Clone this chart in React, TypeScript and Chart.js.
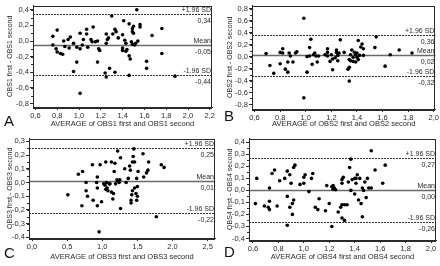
import React, { useEffect, useRef } from 'react';
import { Chart, registerables } from 'chart.js';
Chart.register(...registerables);

// ---------- DATA ----------
const obs1Avg = [0.76,0.76,0.80,0.79,0.80,0.83,0.85,0.86,0.87,0.90,0.91,0.92,0.95,0.95,0.98,0.98,1.01,1.01,1.04,1.03,1.07,1.07,1.08,1.01,1.11,1.12,1.13,1.15,1.17,1.18,1.19,1.17,1.24,1.25,1.25,1.26,1.27,1.28,1.30,1.31,1.33,1.33,1.34,1.36,1.25,1.40,1.40,1.41,1.42,1.43,1.43,1.44,1.46,1.46,1.47,1.46,1.48,1.49,1.49,1.49,1.50,1.50,1.51,1.52,1.54,1.53,1.56,1.56,1.62,1.62,1.67,1.76,1.76,1.88,1.40];
const obs1Diff = [0.06,-0.05,0.14,-0.10,-0.14,-0.16,-0.17,0.00,-0.07,0.02,-0.09,0.05,-0.03,-0.39,-0.08,-0.27,0.10,-0.10,0.02,-0.05,0.09,0.15,-0.08,-0.67,0.02,-0.01,0.18,-0.01,-0.27,-0.10,-0.12,0.00,-0.41,-0.46,-0.03,0.02,0.04,-0.35,0.32,0.09,0.15,-0.40,0.12,0.04,0.09,-0.12,-0.09,0.26,0.01,-0.13,-0.03,-0.11,0.22,-0.19,-0.23,-0.44,-0.01,-0.04,0.16,0.12,0.10,0.19,-0.05,-0.03,0.00,0.40,0.21,0.18,-0.26,-0.35,0.07,0.16,-0.16,-0.45,0.08];
const obs1Stats = [0.34, -0.05, -0.44];

const obs2Avg = [0.69,0.72,0.75,0.80,0.80,0.82,0.82,0.84,0.86,0.86,0.87,0.88,0.90,0.92,0.93,0.985,0.985,1.01,1.01,1.03,1.03,1.04,1.05,1.06,1.07,1.08,1.09,1.10,1.15,1.17,1.17,1.17,1.19,1.20,1.21,1.21,1.23,1.24,1.24,1.25,1.27,1.26,1.30,1.25,1.33,1.34,1.34,1.34,1.35,1.35,1.36,1.37,1.37,1.38,1.39,1.39,1.40,1.40,1.41,1.41,1.42,1.43,1.44,1.45,1.45,1.54,1.55,1.62,1.66,1.73,1.83];
const obs2Diff = [0.05,-0.15,-0.28,-0.12,0.07,0.13,0.06,-0.21,-0.09,-0.26,0.06,0.01,-0.09,0.06,0.08,0.64,-0.69,-0.26,0.00,0.01,0.15,0.29,-0.13,0.03,0.06,0.01,-0.09,0.01,0.03,0.13,0.07,0.01,-0.08,0.03,-0.04,-0.22,-0.02,0.11,0.07,-0.07,0.28,0.06,0.07,0.02,-0.21,-0.18,-0.41,-0.05,-0.07,0.03,0.11,-0.01,-0.08,0.07,0.03,-0.09,-0.01,0.06,0.27,-0.05,0.02,0.16,0.21,0.02,0.13,0.15,0.33,-0.16,0.03,0.11,0.06];
const obs2Stats = [0.36, 0.02, -0.32];

const obs3Avg = [0.51,0.66,0.72,0.71,0.77,0.77,0.79,0.86,0.87,0.92,0.93,0.93,0.93,0.97,0.99,0.955,1.02,1.04,1.05,1.05,1.06,1.07,1.08,1.10,1.11,1.13,1.13,1.15,1.16,1.17,1.18,1.19,1.21,1.22,1.22,1.24,1.25,1.26,1.26,1.32,1.34,1.37,1.39,1.40,1.42,1.41,1.41,1.43,1.44,1.45,1.46,1.46,1.48,1.49,1.49,1.50,1.50,1.51,1.58,1.59,1.63,1.65,1.66,1.77,1.84,1.88,1.43];
const obs3Diff = [-0.09,0.06,0.08,-0.17,0.00,-0.06,-0.10,0.13,-0.13,0.00,0.04,-0.04,-0.17,0.13,-0.14,-0.36,-0.01,-0.02,0.15,-0.05,0.00,-0.04,-0.06,-0.01,-0.01,0.15,-0.07,-0.12,-0.08,0.08,0.14,-0.01,0.02,0.23,0.01,0.00,0.02,0.18,-0.19,0.10,0.00,0.03,0.12,0.09,-0.09,-0.13,-0.15,0.15,0.19,0.245,0.15,-0.04,-0.08,0.03,-0.13,-0.03,-0.10,0.08,0.21,0.04,0.07,0.09,0.15,-0.25,0.13,0.11,-0.06];
const obs3Stats = [0.25, 0.01, -0.22];

const obs4Avg = [0.63,0.62,0.69,0.72,0.73,0.73,0.73,0.75,0.77,0.79,0.81,0.85,0.87,0.87,0.87,0.89,0.89,0.90,0.91,0.91,0.92,0.92,0.93,0.97,1.00,1.00,1.01,1.04,1.06,1.07,1.09,1.11,1.12,1.17,1.18,1.20,1.22,1.22,1.23,1.24,1.23,1.25,1.27,1.29,1.30,1.30,1.30,1.31,1.30,1.32,1.32,1.34,1.35,1.36,1.37,1.37,1.38,1.40,1.40,1.41,1.41,1.42,1.43,1.44,1.45,1.46,1.46,1.47,1.48,1.50,1.49,1.51,1.53,1.53,1.56,1.62,1.64];
const obs4Diff = [0.10,-0.11,-0.13,-0.14,-0.16,-0.09,0.02,0.14,0.17,-0.13,0.08,0.10,0.16,-0.05,-0.29,0.13,-0.14,0.06,-0.11,-0.20,0.19,-0.08,0.21,0.05,0.06,0.11,0.13,-0.01,0.10,0.14,-0.14,-0.16,-0.07,-0.17,0.04,-0.11,0.03,-0.30,0.04,0.02,0.01,0.005,-0.18,-0.14,-0.12,0.06,0.09,0.11,-0.23,-0.25,-0.12,-0.12,0.07,0.19,0.00,0.26,0.09,0.10,-0.03,0.10,0.06,0.13,-0.08,0.10,-0.11,-0.22,0.02,0.00,0.07,0.10,-0.06,0.02,0.33,0.02,0.17,0.06,0.21];
const obs4Stats = [0.27, 0.00, -0.26];

const statLabels = ['+1.96 SD', 'Mean', '-1.96 SD'];

const xTicksA = [0.6,0.8,1.0,1.2,1.4,1.6,1.8,2.0,2.2];
const yTicksA = [-0.8,-0.6,-0.4,-0.2,0.0,0.2,0.4];
const xTicksB = [0.6,0.8,1.0,1.2,1.4,1.6,1.8,2.0];
const yTicksB = [-0.8,-0.6,-0.4,-0.2,0.0,0.2,0.4,0.6,0.8];
const xTicksC = [0.0,0.5,1.0,1.5,2.0,2.5];
const yTicksC = [-0.4,-0.3,-0.2,-0.1,0.0,0.1,0.2,0.3];
const xTicksD = [0.6,0.8,1.0,1.2,1.4,1.6,1.8,2.0];
const yTicksD = [-0.4,-0.3,-0.2,-0.1,0.0,0.1,0.2,0.3,0.4];

// ---------- LAYOUT ----------
const W = 220, H = 133;
const FONT = '"Liberation Sans", Arial, sans-serif';
const INK = '#2a2a2a';

type Panel = {
  letter: string; avg: number[]; diff: number[]; stats: number[];
  xTicks: number[]; yTicks: number[]; xMinor: number; yMinor: number;
  xRange: [number, number]; yRange: [number, number];
  xTitle: string; yTitle: string;
  pos: [number, number]; area: { l: number; r: number; t: number; b: number };
  letterPos: [number, number];
};

const panels: Panel[] = [
  { letter: 'A', avg: obs1Avg, diff: obs1Diff, stats: obs1Stats, xTicks: xTicksA, yTicks: yTicksA, xMinor: 0.1, yMinor: 0.1,
    xRange: [0.578, 2.22], yRange: [-0.845, 0.455], xTitle: 'AVERAGE of OBS1 first and OBS1 second', yTitle: 'OBS1 first - OBS1 second',
    pos: [0, 0], area: { l: 33, r: 212, t: 3, b: 107 }, letterPos: [4, 126] },
  { letter: 'B', avg: obs2Avg, diff: obs2Diff, stats: obs2Stats, xTicks: xTicksB, yTicks: yTicksB, xMinor: 0.1, yMinor: 0.1,
    xRange: [0.58, 2.013], yRange: [-0.876, 0.854], xTitle: 'AVERAGE of OBS2 first and OBS2 second', yTitle: 'OBS2 first - OBS2 second',
    pos: [220, 0], area: { l: 32, r: 217, t: 3, b: 109 }, letterPos: [4, 121] },
  { letter: 'C', avg: obs3Avg, diff: obs3Diff, stats: obs3Stats, xTicks: xTicksC, yTicks: yTicksC, xMinor: 0.25, yMinor: 0.05,
    xRange: [-0.043, 2.605], yRange: [-0.405, 0.321], xTitle: 'AVERAGE of OBS3 first and OBS3 second', yTitle: 'OBS3 first - OBS3 second',
    pos: [0, 133], area: { l: 29, r: 215, t: 3, b: 105 }, letterPos: [4, 125] },
  { letter: 'D', avg: obs4Avg, diff: obs4Diff, stats: obs4Stats, xTicks: xTicksD, yTicks: yTicksD, xMinor: 0.1, yMinor: 0.05,
    xRange: [0.569, 2.039], yRange: [-0.413, 0.432], xTitle: 'AVERAGE of OBS4 first and OBS4 second', yTitle: 'OBS4 first - OBS4 second',
    pos: [220, 133], area: { l: 29, r: 218, t: 2, b: 107 }, letterPos: [4, 124] },
];

const fmt = (v: number) => v.toFixed(1).replace('.', ',');
const fmt2 = (v: number) => {
  const s = Math.abs(v).toFixed(2).replace('.', ',');
  return (v < 0 ? '-' : '') + s;
};

function makeOverlay(p: Panel) {
  return {
    id: 'overlay' + p.letter,
    beforeDatasetsDraw(chart: any) {
      const { ctx, chartArea: a, scales } = chart;
      const xs = scales.x, ys = scales.y;
      ctx.save();
      // minor ticks
      ctx.strokeStyle = INK;
      ctx.lineWidth = 1;
      const x0 = p.xTicks[0], x1 = p.xTicks[p.xTicks.length - 1];
      for (let v = x0; v <= x1 + 1e-9; v += p.xMinor) {
        const px = Math.round(xs.getPixelForValue(v)) + 0.5;
        ctx.beginPath(); ctx.moveTo(px, a.bottom); ctx.lineTo(px, a.bottom + 2); ctx.stroke();
      }
      const y0 = p.yTicks[0], y1 = p.yTicks[p.yTicks.length - 1];
      for (let v = y0; v <= y1 + 1e-9; v += p.yMinor) {
        const py = Math.round(ys.getPixelForValue(v)) + 0.5;
        ctx.beginPath(); ctx.moveTo(a.left - 2, py); ctx.lineTo(a.left, py); ctx.stroke();
      }
      // stat lines
      p.stats.forEach((v, i) => {
        const py = Math.round(ys.getPixelForValue(v)) + 0.5;
        ctx.beginPath();
        if (i === 1) { ctx.setLineDash([]); ctx.strokeStyle = '#6a6a6a'; ctx.lineWidth = 1.6; }
        else { ctx.setLineDash([2, 1]); ctx.strokeStyle = '#333'; ctx.lineWidth = 1; }
        ctx.moveTo(a.left, py); ctx.lineTo(a.right, py); ctx.stroke();
        ctx.setLineDash([]);
        ctx.fillStyle = INK;
        ctx.font = '7px ' + FONT;
        ctx.textAlign = 'right';
        ctx.textBaseline = 'bottom';
        ctx.fillText(statLabels[i], a.right - 1, py - 1);
        ctx.textBaseline = 'top';
        ctx.fillText(fmt2(v), a.right - 1, py + 3);
      });
      ctx.restore();
    },
    afterDraw(chart: any) {
      const { ctx, chartArea: a } = chart;
      ctx.save();
      ctx.strokeStyle = INK;
      ctx.lineWidth = 1;
      ctx.strokeRect(Math.round(a.left) + 0.5, Math.round(a.top) + 0.5, Math.round(a.right - a.left) - 1, Math.round(a.bottom - a.top));
      ctx.fillStyle = '#111';
      ctx.font = '15px ' + FONT;
      ctx.textAlign = 'left';
      ctx.textBaseline = 'alphabetic';
      ctx.fillText(p.letter, p.letterPos[0], p.letterPos[1]);
      ctx.restore();
    },
  };
}

function PanelChart({ p }: { p: Panel }) {
  const ref = useRef<HTMLCanvasElement>(null);
  useEffect(() => {
    if (!ref.current) return;
    const tickFont = { family: FONT, size: 7.5 };
    const chart = new Chart(ref.current, {
      type: 'scatter',
      data: {
        datasets: [{
          data: p.avg.map((x, i) => ({ x, y: p.diff[i] })),
          backgroundColor: '#000', borderColor: '#000', pointRadius: 1.8, pointBorderWidth: 0,
        }],
      },
      options: {
        animation: false, responsive: false, maintainAspectRatio: false,
        layout: { padding: { left: 0, right: W - p.area.r, top: p.area.t, bottom: 0 } },
        plugins: { legend: { display: false }, tooltip: { enabled: false } },
        scales: {
          x: {
            type: 'linear', min: p.xRange[0], max: p.xRange[1],
            afterBuildTicks: (s: any) => { s.ticks = p.xTicks.map((v) => ({ value: v })); },
            afterFit: (s: any) => { s.height = H - p.area.b; },
            grid: { display: true, drawOnChartArea: false, drawTicks: true, tickLength: 3, color: INK },
            border: { display: true, color: INK },
            ticks: { font: tickFont, color: INK, padding: 1, maxRotation: 0, autoSkip: false, callback: (v: any) => fmt(Number(v)) },
            title: { display: true, text: p.xTitle, font: { family: FONT, size: 7.5 }, color: INK, padding: { top: 0, bottom: 5 } },
          },
          y: {
            type: 'linear', min: p.yRange[0], max: p.yRange[1],
            afterBuildTicks: (s: any) => { s.ticks = p.yTicks.map((v) => ({ value: v })); },
            afterFit: (s: any) => { s.width = p.area.l; },
            grid: { display: true, drawOnChartArea: false, drawTicks: true, tickLength: 3, color: INK },
            border: { display: true, color: INK },
            ticks: { font: tickFont, color: INK, padding: 1, autoSkip: false, callback: (v: any) => fmt(Number(v)) },
            title: { display: true, text: p.yTitle, font: { family: FONT, size: 7 }, color: INK, padding: { top: 6, bottom: 0 } },
          },
        },
      },
      plugins: [makeOverlay(p)],
    } as any);
    return () => chart.destroy();
  }, [p]);
  return (
    <canvas ref={ref} width={W} height={H}
      style={{ position: 'absolute', left: p.pos[0], top: p.pos[1], width: W, height: H }} />
  );
}

export default function App() {
  useEffect(() => { document.body.style.margin = '0'; }, []);
  return (
    <div style={{ position: 'fixed', left: 0, top: 0, width: 440, height: 266, background: '#fff' }}>
      {panels.map((p) => <PanelChart key={p.letter} p={p} />)}
    </div>
  );
}
